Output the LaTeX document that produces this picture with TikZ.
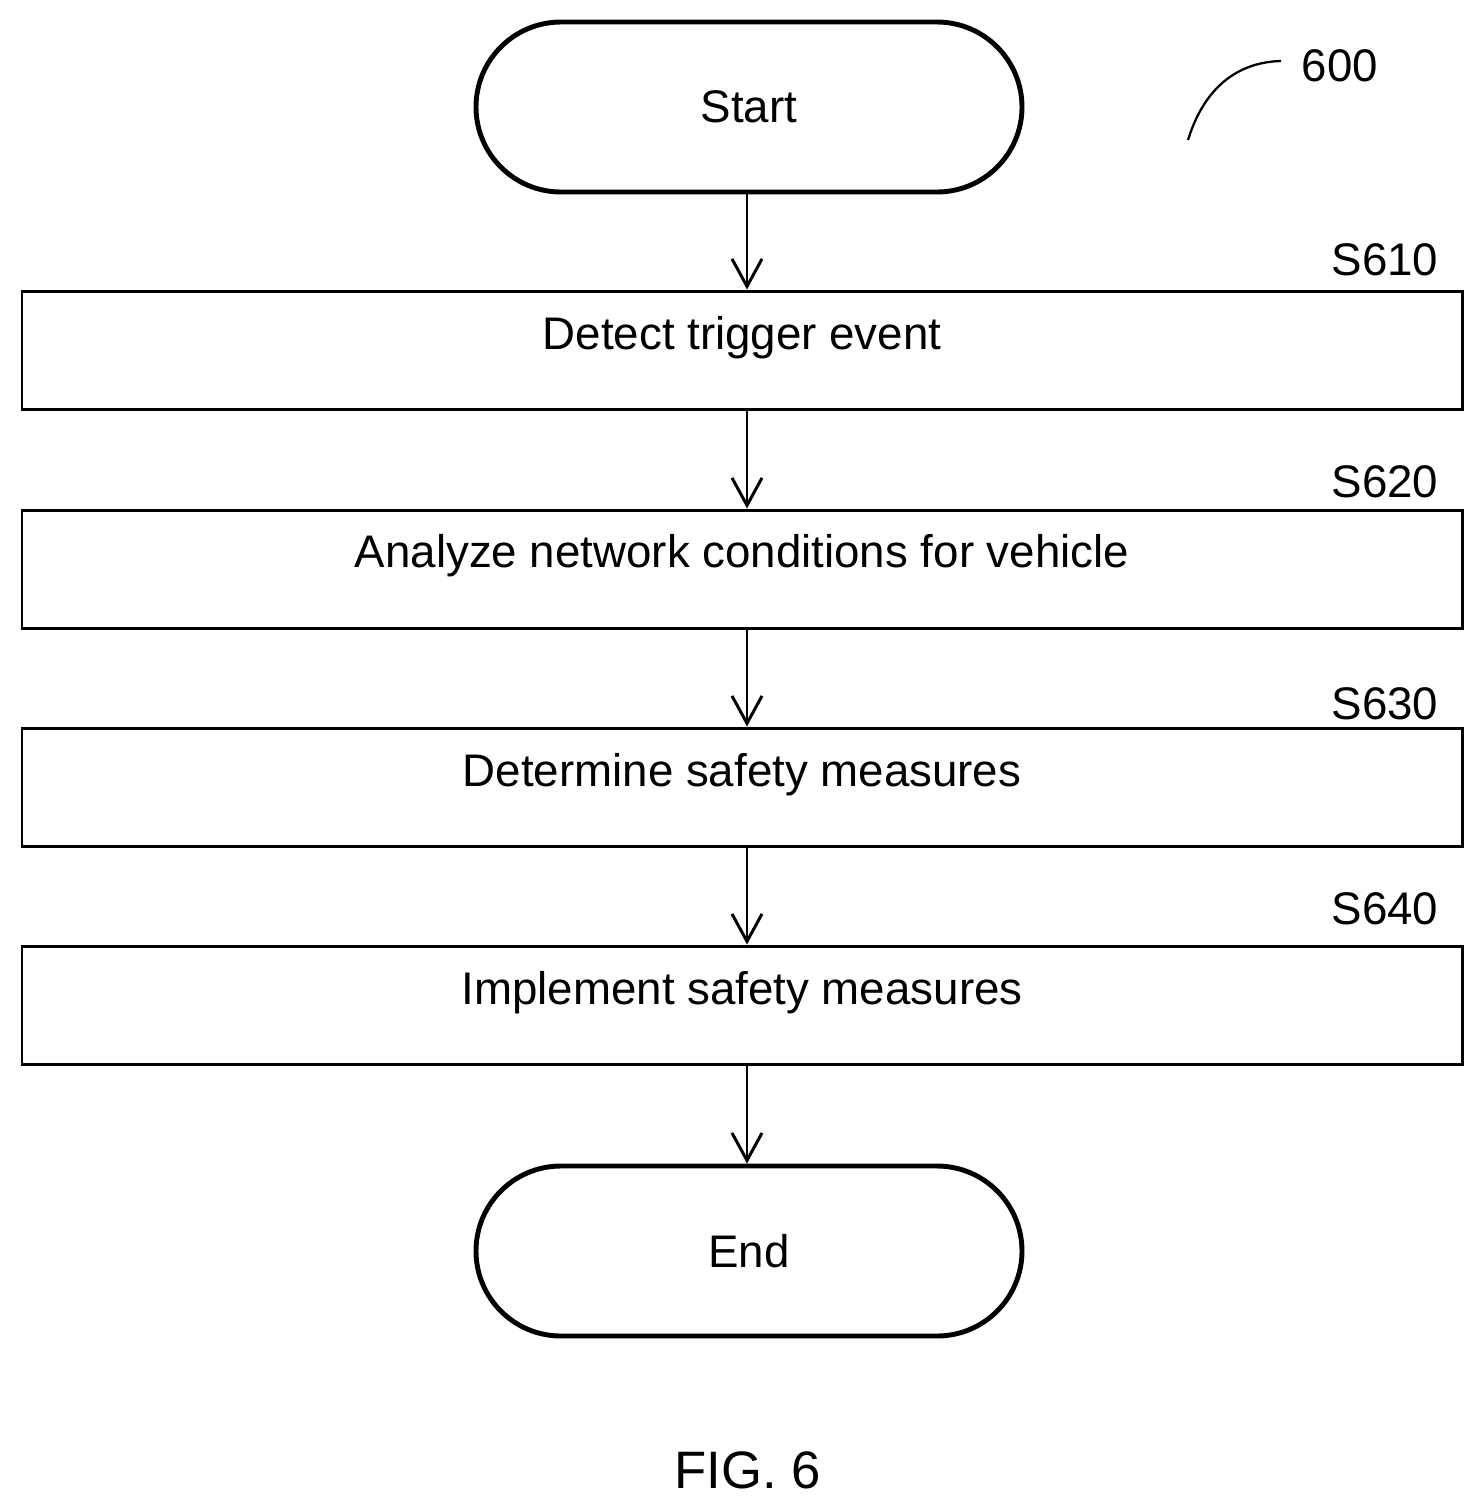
\documentclass[tikz,border=0pt]{standalone}
\usepackage{fontspec}
\setmainfont{Liberation Sans}
\usetikzlibrary{arrows.meta,positioning}

\begin{document}
\begin{tikzpicture}[x=0.02cm,y=-0.02cm,
    terminal/.style={draw, line width=2.8pt, rounded corners=85*0.02cm,
      minimum width=546*0.02cm, minimum height=170*0.02cm, font=\fontsize{26}{32}\selectfont},
    process/.style={draw, line width=1.7pt, minimum width=1440*0.02cm,
      minimum height=118*0.02cm},
    processtext/.style={font=\fontsize{26}{32}\selectfont},
    ref/.style={font=\fontsize{26}{32}\selectfont},
    flow/.style={line width=1.7pt, -{Straight Barb[length=0.55cm,width=0.6cm,line width=1.7pt]}}]
  \useasboundingbox (0,0) rectangle (1484,1509);

  % Terminals
  \node[terminal] (start) at (749,107) {Start};
  \node[terminal] (end) at (749,1251) {End};

  % Process steps
  \node[process] (s610) at (742,350) {};
  \node[process] (s620) at (742,569) {};
  \node[process] (s630) at (742,787) {};
  \node[process] (s640) at (742,1005) {};
  \node[processtext] (t610) at (742,338) {Detect trigger event};
  \node[processtext] (t620) at (742,556) {Analyze network conditions for vehicle};
  \node[processtext] (t630) at (742,775) {Determine safety measures};
  \node[processtext] (t640) at (742,993) {Implement safety measures};

  % Step labels
  \node[ref] (l610) at (1385,260) {S610};
  \node[ref] (l620) at (1385,482) {S620};
  \node[ref] (l630) at (1385,704) {S630};
  \node[ref] (l640) at (1385,909) {S640};

  % Arrows
  \draw[flow] (start.south -| 747,0) -- (s610.north -| 747,0);
  \draw[flow] (s610.south -| 747,0) -- (s620.north -| 747,0);
  \draw[flow] (s620.south -| 747,0) -- (s630.north -| 747,0);
  \draw[flow] (s630.south -| 747,0) -- (s640.north -| 747,0);
  \draw[flow] (s640.south -| 747,0) -- (end.north -| 747,0);

  % Figure reference
  \node[ref] (n600) at (1340,66) {600};
  \coordinate (lead) at (1188,140);
  \coordinate (leadend) at (1281,61);
  \draw[line width=1.3pt] (lead) .. controls (1205,85) and (1240,62) .. (leadend);

  \node[font=\fontsize{30}{36}\selectfont] (fig) at (748,1470) {FIG. 6};
\end{tikzpicture}
\end{document}
